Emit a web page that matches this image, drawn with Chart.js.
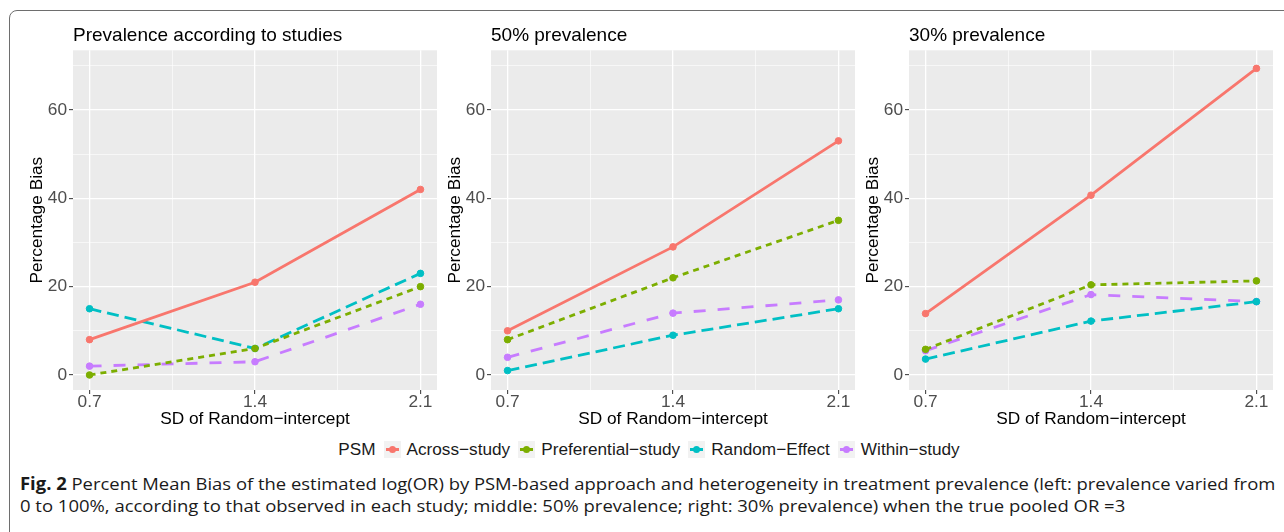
<!DOCTYPE html>
<html lang="en">
<head>
    <meta charset="UTF-8">
    <title>Percent Mean Bias by PSM approach</title>
    <script src="https://cdn.jsdelivr.net/npm/chart.js"></script>
    <style>
        body { margin: 0; width: 1284px; height: 532px; overflow: hidden; background: #fff; position: relative;
               font-family: "Liberation Sans", Arial, sans-serif; }
        .frame { position: absolute; left: 9px; top: 10px; width: 1320px; height: 620px;
                 border: 1.5px solid #6e6e6e; border-radius: 8px; }
        .panel { position: absolute; top: 15px; width: 432px; height: 420px; }
        #legend { position: absolute; left: 0; top: 439px; width: 1298px; height: 20px;
                  display: flex; justify-content: center; align-items: center; font-size: 17.2px; color: #1a1a1a; }
        #legend .key { position: relative; width: 17px; height: 17px; background: #F2F2F2; margin: 0 6px 0 8px; }
        #legend .key i { position: absolute; left: 2px; top: 7px; width: 13px; height: 3px; }
        #legend .key b { position: absolute; left: 5px; top: 5px; width: 7px; height: 7px; border-radius: 50%; }
        .caption { position: absolute; left: 20px; white-space: nowrap; font-family: "Open Sans", sans-serif;
                   font-size: 17px; line-height: 22px; color: #1a1a1a; transform-origin: left top; }
    </style>
</head>
<body>
    <div class="frame"></div>
    <div class="panel" style="left:10px"><canvas id="chart0"></canvas></div>
    <div class="panel" style="left:428px"><canvas id="chart1"></canvas></div>
    <div class="panel" style="left:846px"><canvas id="chart2"></canvas></div>
    <div id="legend"><span>PSM</span></div>
    <div class="caption" id="cap1" style="top:473px"><b>Fig. 2</b> Percent Mean Bias of the estimated log(OR) by PSM-based approach and heterogeneity in treatment prevalence (left: prevalence varied from</div>
    <div class="caption" id="cap2" style="top:495px">0 to 100%, according to that observed in each study; middle: 50% prevalence; right: 30% prevalence) when the true pooled OR =3</div>
    <script>
        // x values (SD of random intercept) and the PSM approaches
        const sdValues = [0.7, 1.4, 2.1];
        const methods = ['Across\u2212study', 'Preferential\u2212study', 'Random\u2212Effect', 'Within\u2212study'];
        const colors = ['#F8766D', '#7CAE00', '#00BFC4', '#C77CFF'];
        const dashes = [[], [6, 5], [12, 6], [12, 12]];

        const panelTitles = ['Prevalence according to studies', '50% prevalence', '30% prevalence'];

        // prevalence according to studies
        const studyAcross = [8, 21, 42];
        const studyPreferential = [0, 6, 20];
        const studyRandom = [15, 6, 23];
        const studyWithin = [2, 3, 16];

        // 50% prevalence
        const p50Across = [10, 29, 53];
        const p50Preferential = [8, 22, 35];
        const p50Random = [1, 9, 15];
        const p50Within = [4, 14, 17];

        // 30% prevalence
        const p30Across = [13.9, 40.7, 69.4];
        const p30Preferential = [5.8, 20.4, 21.3];
        const p30Random = [3.6, 12.2, 16.6];
        const p30Within = [5.5, 18.2, 16.6];

        const panelSeries = [
            [studyAcross, studyPreferential, studyRandom, studyWithin],
            [p50Across, p50Preferential, p50Random, p50Within],
            [p30Across, p30Preferential, p30Random, p30Within]
        ];

        const yTicks = [0, 10, 20, 30, 40, 50, 60, 70];
        const yMajor = [0, 20, 40, 60];
        const xTicks = [0.7, 1.05, 1.4, 1.75, 2.1];

        Chart.defaults.font.family = '"Liberation Sans", Arial, sans-serif';
        const axisFont = 17.3;

        // grey panel background like ggplot
        const panelBg = {
            id: 'panelBg',
            beforeDraw(chart) {
                const { ctx, chartArea: a } = chart;
                ctx.save();
                ctx.fillStyle = '#EBEBEB';
                ctx.fillRect(a.left, a.top, a.right - a.left, a.bottom - a.top);
                ctx.restore();
            }
        };

        function gridOpts(isMajor) {
            return {
                color: '#FFFFFF',
                lineWidth: ctx => isMajor(ctx.tick.value) ? 1.3 : 0.6,
                tickColor: ctx => isMajor(ctx.tick.value) ? '#333333' : 'rgba(0,0,0,0)',
                tickLength: 4,
                tickWidth: 1
            };
        }

        panelSeries.forEach((series, p) => {
            new Chart(document.getElementById('chart' + p), {
                type: 'line',
                data: {
                    datasets: series.map((vals, i) => ({
                        label: methods[i],
                        data: sdValues.map((x, j) => ({ x: x, y: vals[j] })),
                        borderColor: colors[i],
                        backgroundColor: colors[i],
                        pointBackgroundColor: colors[i],
                        pointBorderColor: colors[i],
                        borderWidth: 2.8,
                        borderDash: dashes[i],
                        pointRadius: 3.3,
                        pointBorderWidth: 1,
                        fill: false,
                        tension: 0
                    }))
                },
                options: {
                    responsive: true,
                    maintainAspectRatio: false,
                    animation: false,
                    layout: { padding: { left: 0, right: 3, top: 0, bottom: 0 } },
                    plugins: {
                        legend: { display: false },
                        tooltip: { enabled: false },
                        title: {
                            display: true,
                            text: panelTitles[p],
                            align: 'start',
                            fullSize: false,
                            color: '#000',
                            font: { size: 19, weight: 'normal' },
                            padding: { top: 9, bottom: 3.5 }
                        }
                    },
                    scales: {
                        x: {
                            type: 'linear',
                            min: 0.63,
                            max: 2.17,
                            afterBuildTicks: s => { s.ticks = xTicks.map(v => ({ value: v })); },
                            afterFit: s => { s.height = 45; },
                            border: { display: false },
                            grid: gridOpts(v => sdValues.includes(v)),
                            ticks: {
                                autoSkip: false,
                                maxRotation: 0,
                                padding: -2,
                                color: '#4D4D4D',
                                font: { size: axisFont },
                                callback: v => sdValues.includes(v) ? v.toFixed(1) : ''
                            },
                            title: {
                                display: true,
                                text: 'SD of Random\u2212intercept',
                                color: '#000',
                                font: { size: axisFont },
                                padding: { top: 0, bottom: 5 }
                            }
                        },
                        y: {
                            min: -3.4,
                            max: 73.5,
                            afterBuildTicks: s => { s.ticks = yTicks.map(v => ({ value: v })); },
                            afterFit: s => { s.width = 63; },
                            border: { display: false },
                            grid: gridOpts(v => yMajor.includes(v)),
                            ticks: {
                                padding: 2,
                                color: '#4D4D4D',
                                font: { size: axisFont },
                                callback: v => yMajor.includes(v) ? String(v) : ''
                            },
                            title: {
                                display: true,
                                text: 'Percentage Bias',
                                color: '#000',
                                font: { size: axisFont },
                                padding: { top: 16.5, bottom: 0 }
                            }
                        }
                    }
                },
                plugins: [panelBg]
            });
        });

        // legend row
        const legend = document.getElementById('legend');
        methods.forEach((m, i) => {
            const key = document.createElement('span');
            key.className = 'key';
            key.innerHTML = '<i style="background:' + colors[i] + '"></i><b style="background:' + colors[i] + '"></b>';
            const lab = document.createElement('span');
            lab.textContent = m;
            legend.appendChild(key);
            legend.appendChild(lab);
        });

        // squeeze caption lines to the width they have in the figure
        [['cap1', 1255], ['cap2', 1105]].forEach(([id, w]) => {
            const el = document.getElementById(id);
            el.style.transform = 'scaleX(' + (w / el.scrollWidth) + ')';
        });
    </script>
</body>
</html>
